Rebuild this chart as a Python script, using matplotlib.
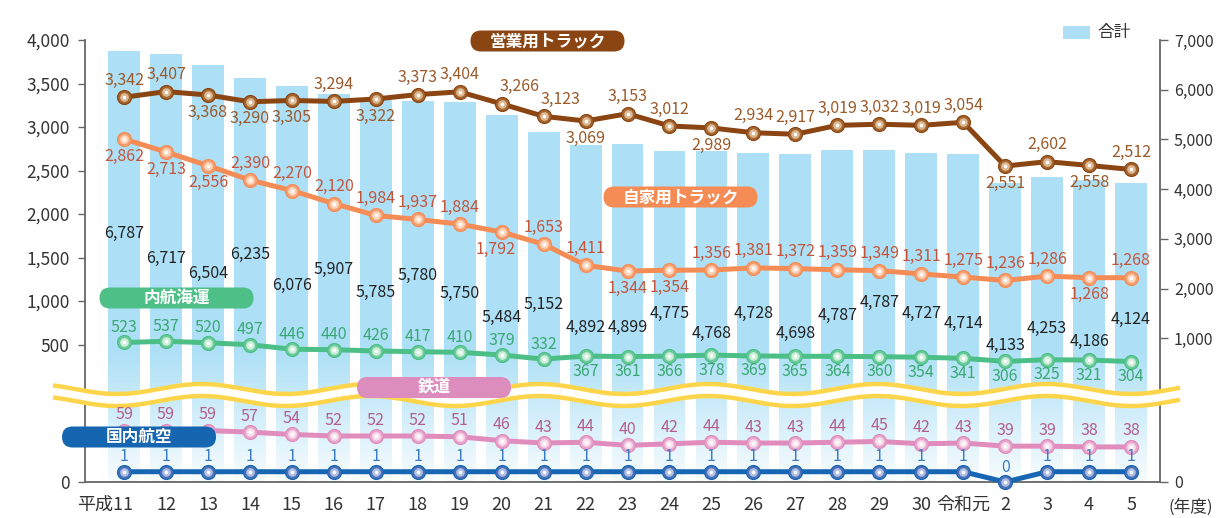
import matplotlib.pyplot as plt
import numpy as np
from matplotlib.patches import FancyBboxPatch, Rectangle
from matplotlib.transforms import IdentityTransform, ScaledTranslation, blended_transform_factory

plt.rcParams['font.family'] = ['Noto Sans CJK JP', 'DejaVu Sans']

# data
years = ['平成11', '12', '13', '14', '15', '16', '17', '18', '19', '20', '21', '22', '23',
         '24', '25', '26', '27', '28', '29', '30', '令和元', '2', '3', '4', '5']
total = [6787, 6717, 6504, 6235, 6076, 5907, 5785, 5780, 5750, 5484, 5152, 4892, 4899,
         4775, 4768, 4728, 4698, 4787, 4787, 4727, 4714, 4133, 4253, 4186, 4124]
commercial_truck = [3342, 3407, 3368, 3290, 3305, 3294, 3322, 3373, 3404, 3266, 3123, 3069, 3153,
                    3012, 2989, 2934, 2917, 3019, 3032, 3019, 3054, 2551, 2602, 2558, 2512]
private_truck = [2862, 2713, 2556, 2390, 2270, 2120, 1984, 1937, 1884, 1792, 1653, 1411, 1344,
                 1354, 1356, 1381, 1372, 1359, 1349, 1311, 1275, 1236, 1286, 1268, 1268]
coastal = [523, 537, 520, 497, 446, 440, 426, 417, 410, 379, 332, 367, 361,
           366, 378, 369, 365, 364, 360, 354, 341, 306, 325, 321, 304]
rail = [59, 59, 59, 57, 54, 52, 52, 52, 51, 46, 43, 44, 40,
        42, 44, 43, 43, 44, 45, 42, 43, 39, 39, 38, 38]
air = [1, 1, 1, 1, 1, 1, 1, 1, 1, 1, 1, 1, 1,
       1, 1, 1, 1, 1, 1, 1, 1, 0, 1, 1, 1]

# label placement (a = above, b = below), layout only
commercial_place = 'aabbbabaaaabaabaaaaaababa'
private_place = 'bbbaaaaaabaabbaaaaaaaaaba'
coastal_place = 'aaaaaaaaaaabbbbbbbbbbbbbb'
total_label_px = [233, 258, 273, 254, 285, 269, 292, 275, 293, 317, 304, 327, 327,
                  313, 333, 313, 333, 315, 302, 313, 323, 345, 328, 341, 319]

W, H = 1217, 518
fig = plt.figure(figsize=(W / 100, H / 100), dpi=100)
ax_left, ax_right, ax_top, ax_bot = 85, 1160, 40, 482
zero_px = 388  # where 0 sits on the upper (unbroken) scale
rect = [ax_left / W, (H - ax_bot) / H, (ax_right - ax_left) / W, (ax_bot - ax_top) / H]
f0 = (ax_bot - zero_px) / (ax_bot - ax_top)
left_lo = -4000 * f0 / (1 - f0)
right_lo = -7000 * f0 / (1 - f0)

x = np.arange(len(years))
xlim = (-0.93, 24.69)
bar_color = '#ade0f6'
axis_color = '#666666'
text_color = '#333333'

# ---- bars (right scale) ----
ax_bar = fig.add_axes(rect, zorder=0)
ax_bar.bar(x, np.array(total) - right_lo, bottom=right_lo, width=0.76, color=bar_color, zorder=1)
fade_top = (ax_bot - 350) / (ax_bot - ax_top)
grad = np.ones((256, 1, 4))
grad[:, 0, 3] = np.linspace(0.92, 0.0, 256)
ax_bar.imshow(grad, extent=[0, 1, 0, fade_top], transform=ax_bar.transAxes,
              aspect='auto', origin='lower', zorder=2)

# wavy break band
wx = np.linspace(53, 1180, 800)
w_up = 389 + 5 * np.cos(2 * np.pi * (wx - 117) / 169)
w_lo = w_up + 12
wxa = (wx - ax_left) / (ax_right - ax_left)
to_ax = lambda p: (ax_bot - p) / (ax_bot - ax_top)
ax_bar.fill_between(wxa, to_ax(w_up), to_ax(w_lo), color='white', transform=ax_bar.transAxes,
                    clip_on=False, zorder=5, lw=0)
for w in (w_up, w_lo):
    ax_bar.plot(wxa, to_ax(w), color='#fdd54a', lw=3.2, transform=ax_bar.transAxes,
                clip_on=False, zorder=6, solid_capstyle='butt')

ax_bar.set_xlim(*xlim)
ax_bar.set_ylim(right_lo, 7000)
ax_bar.yaxis.tick_right()
ax_bar.set_yticks([right_lo] + [1000 * k for k in range(1, 8)])
ax_bar.set_yticklabels(['0'] + [f'{1000 * k:,}' for k in range(1, 8)])
ax_bar.tick_params(axis='y', direction='out', length=6, width=1, color=axis_color,
                   labelsize=11.5, labelcolor=text_color, pad=4)
ax_bar.set_xticks(x)
ax_bar.set_xticklabels(years)
ax_bar.tick_params(axis='x', length=0, labelsize=13, labelcolor=text_color, pad=10)
first = ax_bar.get_xticklabels()[0]
first.set_ha('right')
first.set_transform(first.get_transform() + ScaledTranslation(0.09, 0, fig.dpi_scale_trans))
ax_bar.spines['top'].set_visible(False)
for s in ('left', 'right', 'bottom'):
    ax_bar.spines[s].set_color(axis_color)
    ax_bar.spines[s].set_linewidth(1.3)

tot_tr = blended_transform_factory(ax_bar.transData, ax_bar.transAxes)
for xi, v, py in zip(x, total, total_label_px):
    ax_bar.text(xi, to_ax(py), f'{v:,}', transform=tot_tr, ha='center', va='center',
                fontsize=11.5, color='#222222', zorder=8)

# ---- lines (left scale) ----
ax_line = fig.add_axes(rect, sharex=ax_bar, zorder=1)
ax_line.patch.set_visible(False)
for s in ax_line.spines.values():
    s.set_visible(False)
ax_line.set_ylim(left_lo, 4000)
ax_line.set_yticks([left_lo] + [500 * k for k in range(1, 9)])
ax_line.set_yticklabels(['0'] + [f'{500 * k:,}' for k in range(1, 9)])
ax_line.tick_params(axis='y', direction='out', length=5, width=1, color=axis_color,
                    labelsize=12.5, labelcolor=text_color, pad=6)
ax_line.tick_params(axis='x', bottom=False, labelbottom=False)

ax_rail = fig.add_axes(rect, sharex=ax_bar, zorder=1)
ax_rail.axis('off')
ax_rail.set_ylim(-7, 560)
ax_air = fig.add_axes(rect, sharex=ax_bar, zorder=1)
ax_air.axis('off')
ax_air.set_ylim(0, 43)


def draw_series(ax, vals, line_c, mid_c, light_c, lbl_c, place, dy, dx=None):
    ax.plot(x, vals, color=line_c, lw=3.6, zorder=3, clip_on=False)
    ax.plot(x, vals, 'o', ms=10, mfc=mid_c, mec=line_c, mew=0.9, zorder=4, clip_on=False)
    ax.plot(x, vals, 'o', ms=6.2, mfc=light_c, mec='none', zorder=5, clip_on=False)
    ax.plot(x, vals, 'o', ms=2.6, mfc='white', mec='none', zorder=6, clip_on=False)
    for i, (xi, v) in enumerate(zip(x, vals)):
        off = dy if place[i] == 'a' else -dy
        sx = dx.get(i, 0) if dx else 0
        ax.annotate(f'{v:,}', (xi, v), xytext=(sx, off), textcoords='offset pixels',
                    ha='center', va='center', fontsize=11.5, color=lbl_c, zorder=8,
                    annotation_clip=False)


draw_series(ax_line, commercial_truck, '#8b4513', '#a5672f', '#dcb893', '#9a5a2a',
            commercial_place, 17, {9: 18, 10: 17})
draw_series(ax_line, private_truck, '#f58c55', '#f7a072', '#fdd6bd', '#c4553b',
            private_place, 17, {9: -6})
draw_series(ax_line, coastal, '#4cbf87', '#6ccb9b', '#cdeedb', '#3aa874', coastal_place, 15)
draw_series(ax_rail, rail, '#e08dbd', '#e8a6cc', '#f8deec', '#b45f8c', 'a' * len(rail), 16)
draw_series(ax_air, air, '#1766b3', '#4d6fb6', '#aebfe4', '#3b7cc4', 'a' * len(air), 15)
ax_bar.set_xlim(*xlim)


# ---- pill labels ----
def pill(cx, cy, label, color):
    fig.add_artist(FancyBboxPatch((cx - 77, H - cy - 10.5), 154, 21,
                                  boxstyle='round,pad=0,rounding_size=10.5',
                                  transform=IdentityTransform(), fc=color, ec='none', zorder=5))
    fig.text(cx / W, 1 - cy / H, label, ha='center', va='center', color='white',
             fontsize=12, fontweight='bold', zorder=6)


pill(547.5, 41, '営業用トラック', '#8b4513')
pill(680.5, 197, '自家用トラック', '#f58c55')
pill(176.5, 298, '内航海運', '#4dbf87')
pill(434, 387.5, '鉄道', '#dc8cbd')
pill(139, 437, '国内航空', '#1565b0')

# legend
fig.add_artist(Rectangle((1063, H - 39), 27, 13, transform=IdentityTransform(),
                         fc=bar_color, ec='none'))
fig.text(1097 / W, 1 - 32.5 / H, '合計', ha='left', va='center', fontsize=12, color=text_color)
fig.text(1168 / W, 1 - 507 / H, '(年度)', ha='left', va='center', fontsize=12, color=text_color)

fig.savefig('out.png', dpi=100)
